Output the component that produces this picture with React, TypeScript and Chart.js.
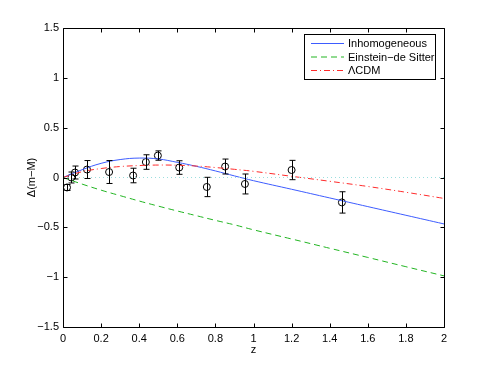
import React, { useEffect, useRef } from "react";
import { Chart, registerables } from "chart.js";
Chart.register(...registerables);

// Model curves sampled in redshift z
const curveZ = [0, 0.1, 0.2, 0.3, 0.4, 0.5, 0.6, 0.7, 0.8, 0.9, 1.0, 1.2, 1.4, 1.6, 1.8, 2.0];
const inhomogeneous = [0, 0.078, 0.142, 0.18, 0.195, 0.186, 0.152, 0.112, 0.066, 0.016, -0.032, -0.118, -0.205, -0.292, -0.379, -0.466];
const einsteinDeSitter = [0, -0.066, -0.127, -0.182, -0.236, -0.287, -0.336, -0.383, -0.43, -0.475, -0.525, -0.617, -0.71, -0.802, -0.895, -0.987];
const lambdaCDM = [0, 0.058, 0.09, 0.11, 0.12, 0.125, 0.123, 0.115, 0.1, 0.082, 0.062, 0.012, -0.038, -0.09, -0.148, -0.21];

// Zero reference line
const zeroZ = [0, 2];
const zeroLine = [0, 0];

// Observations with error bars
const obsZ = [0.021, 0.044, 0.063, 0.126, 0.242, 0.368, 0.435, 0.498, 0.61, 0.755, 0.851, 0.955, 1.2, 1.464];
const obsDelta = [-0.1, 0.0, 0.05, 0.08, 0.055, 0.02, 0.155, 0.22, 0.1, -0.095, 0.11, -0.065, 0.075, -0.25];
const obsError = [0.03, 0.055, 0.065, 0.09, 0.115, 0.073, 0.073, 0.047, 0.068, 0.097, 0.075, 0.1, 0.097, 0.107];

// Axis ticks
const xTicks = [0, 0.2, 0.4, 0.6, 0.8, 1, 1.2, 1.4, 1.6, 1.8, 2];
const yTicks = [-1.5, -1, -0.5, 0, 0.5, 1, 1.5];

const legendItems = [
  { label: "Inhomogeneous", color: "#3d5cff", dash: [] as number[] },
  { label: "Einstein\u2212de Sitter", color: "#22b522", dash: [6, 4] },
  { label: "\u039bCDM", color: "#ff2a2a", dash: [6, 3, 1, 3] },
];

const FONT = "'Liberation Sans', Arial, Helvetica, sans-serif";

const fmt = (v: number) => {
  const s = String(Number(v.toFixed(2)));
  return s.replace("-", "\u2212");
};

const matlabPlugin = {
  id: "matlabDecor",
  afterDatasetsDraw(chart: any) {
    const { ctx, scales } = chart;
    const xs = scales.x, ys = scales.y;
    ctx.save();
    ctx.strokeStyle = "#000";
    ctx.lineWidth = 1;
    const cap = 3;
    for (let i = 0; i < obsZ.length; i++) {
      const px = Math.round(xs.getPixelForValue(obsZ[i])) + 0.5;
      const top = ys.getPixelForValue(obsDelta[i] + obsError[i]);
      const bot = ys.getPixelForValue(obsDelta[i] - obsError[i]);
      ctx.beginPath();
      ctx.moveTo(px, top);
      ctx.lineTo(px, bot);
      ctx.moveTo(px - cap, top);
      ctx.lineTo(px + cap, top);
      ctx.moveTo(px - cap, bot);
      ctx.lineTo(px + cap, bot);
      ctx.stroke();
    }
    ctx.restore();
  },
  afterDraw(chart: any) {
    const { ctx, chartArea: a, scales } = chart;
    const xs = scales.x, ys = scales.y;
    ctx.save();
    ctx.strokeStyle = "#000";
    ctx.lineWidth = 1;
    const L = Math.round(a.left) + 0.5, R = Math.round(a.right) + 0.5;
    const T = Math.round(a.top) + 0.5, B = Math.round(a.bottom) + 0.5;
    ctx.beginPath();
    ctx.rect(L, T, R - L, B - T);
    const tl = 4;
    for (const v of xTicks) {
      const p = Math.round(xs.getPixelForValue(v)) + 0.5;
      ctx.moveTo(p, B); ctx.lineTo(p, B - tl);
      ctx.moveTo(p, T); ctx.lineTo(p, T + tl);
    }
    for (const v of yTicks) {
      const p = Math.round(ys.getPixelForValue(v)) + 0.5;
      ctx.moveTo(L, p); ctx.lineTo(L + tl, p);
      ctx.moveTo(R, p); ctx.lineTo(R - tl, p);
    }
    ctx.stroke();

    // Legend box
    const bx = 304.5, by = 34.5, bw = 131, bh = 45;
    ctx.fillStyle = "#fff";
    ctx.fillRect(bx, by, bw, bh);
    ctx.strokeRect(bx, by, bw, bh);
    ctx.font = `11px ${FONT}`;
    ctx.textBaseline = "middle";
    ctx.textAlign = "left";
    const rows = [43.5, 57, 70.5];
    legendItems.forEach((it, i) => {
      ctx.beginPath();
      ctx.strokeStyle = it.color;
      ctx.setLineDash(it.dash);
      ctx.moveTo(311, rows[i]);
      ctx.lineTo(344, rows[i]);
      ctx.stroke();
      ctx.setLineDash([]);
      ctx.fillStyle = "#000";
      ctx.fillText(it.label, 348, rows[i] + 0.5);
    });
    ctx.restore();
  },
};

export default function App() {
  const ref = useRef<HTMLCanvasElement | null>(null);
  useEffect(() => {
    if (!ref.current) return;
    const mk = (zs: number[], vs: number[]) => zs.map((z, i) => ({ x: z, y: vs[i] }));
    const chart = new Chart(ref.current, {
      type: "scatter",
      data: {
        datasets: [
          {
            label: "zero",
            data: mk(zeroZ, zeroLine),
            showLine: true,
            borderColor: "#9adede",
            borderWidth: 1,
            borderDash: [1, 3],
            pointRadius: 0,
          },
          {
            label: "Einstein-de Sitter",
            data: mk(curveZ, einsteinDeSitter),
            showLine: true,
            borderColor: legendItems[1].color,
            borderWidth: 1,
            borderDash: [6, 4],
            pointRadius: 0,
            tension: 0.4,
          },
          {
            label: "\u039bCDM",
            data: mk(curveZ, lambdaCDM),
            showLine: true,
            borderColor: legendItems[2].color,
            borderWidth: 1,
            borderDash: [6, 3, 1, 3],
            pointRadius: 0,
            tension: 0.4,
          },
          {
            label: "Inhomogeneous",
            data: mk(curveZ, inhomogeneous),
            showLine: true,
            borderColor: legendItems[0].color,
            borderWidth: 1,
            pointRadius: 0,
            tension: 0.4,
          },
          {
            label: "data",
            data: mk(obsZ, obsDelta),
            showLine: false,
            pointRadius: 3.5,
            pointStyle: "circle",
            backgroundColor: "rgba(0,0,0,0)",
            borderColor: "#000",
            borderWidth: 1,
          },
        ],
      },
      options: {
        animation: false,
        responsive: false,
        devicePixelRatio: 1,
        layout: { padding: { left: 0, top: 28, right: 47, bottom: 0 } },
        plugins: { legend: { display: false }, tooltip: { enabled: false } },
        scales: {
          x: {
            type: "linear",
            min: 0,
            max: 2,
            afterBuildTicks: (s: any) => { s.ticks = xTicks.map((v) => ({ value: v })); },
            afterFit: (s: any) => { s.height = 42; },
            grid: { display: false, drawTicks: false },
            border: { display: false },
            ticks: {
              padding: 5,
              color: "#000",
              font: { family: FONT, size: 11 },
              maxRotation: 0,
              autoSkip: false,
              callback: (v: any) => fmt(Number(v)),
            },
            title: {
              display: true,
              text: "z",
              color: "#000",
              font: { family: FONT, size: 11 },
              padding: { top: 0, bottom: 12 },
            },
          },
          y: {
            type: "linear",
            min: -1.5,
            max: 1.5,
            afterBuildTicks: (s: any) => { s.ticks = yTicks.map((v) => ({ value: v })); },
            afterFit: (s: any) => { s.width = 63; },
            grid: { display: false, drawTicks: false },
            border: { display: false },
            ticks: {
              padding: 4,
              color: "#000",
              font: { family: FONT, size: 11 },
              autoSkip: false,
              callback: (v: any) => fmt(Number(v)),
            },
            title: {
              display: true,
              text: "\u0394(m\u2212M)",
              color: "#000",
              font: { family: FONT, size: 11 },
              padding: { top: 25, bottom: 0 },
            },
          },
        },
      },
      plugins: [matlabPlugin],
    });
    return () => chart.destroy();
  }, []);
  return (
    <div style={{ position: "absolute", left: 0, top: 0, width: 491, height: 369, background: "#fff" }}>
      <canvas ref={ref} width={491} height={369} style={{ display: "block" }} />
    </div>
  );
}
